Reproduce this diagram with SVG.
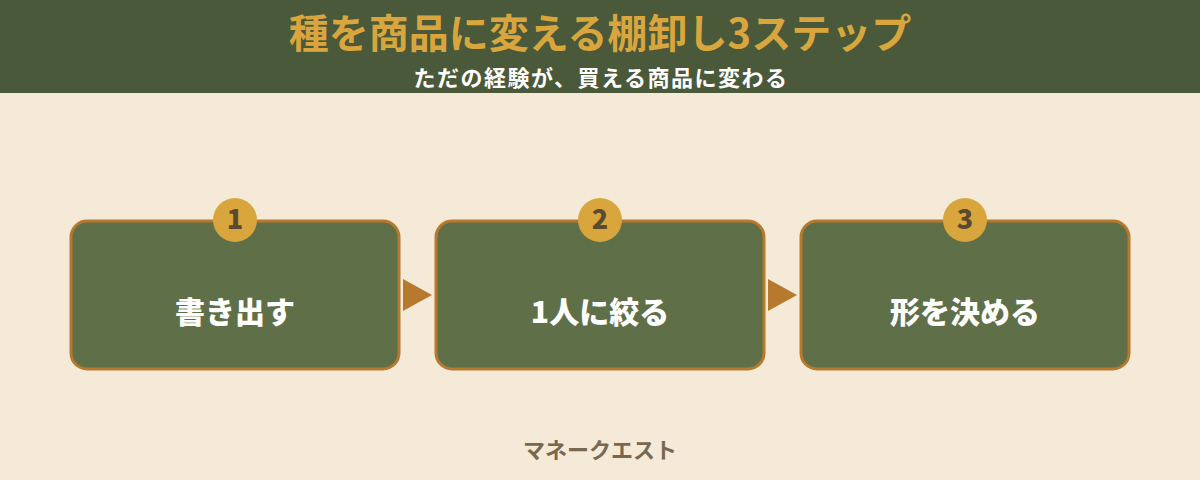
<svg xmlns="http://www.w3.org/2000/svg" width="1200" height="480" viewBox="0 0 1200 480">
<style>
text{font-family:"Noto Sans CJK JP","Noto Sans",sans-serif;text-anchor:middle;font-weight:700}
.box{fill:#5f6f48;stroke:#b7792e;stroke-width:3}
.badge{fill:#d9a63e}
.num{fill:#5a4a30;font-size:27px;font-weight:900}
.lbl{fill:#ffffff;font-size:30px;font-weight:900}
.arr{fill:#b7792e}
</style>
<rect width="1200" height="480" fill="#f5ead8"/>
<rect width="1200" height="93" fill="#4a593a"/>
<text x="600" y="47.5" font-size="40" font-weight="900" fill="#d9a63e">種を商品に変える棚卸し3ステップ</text>
<text x="601" y="85.5" font-size="22" letter-spacing="1.5" fill="#ffffff" font-weight="500">ただの経験が、買える商品に変わる</text>
<g id="connectors">
<polygon class="arr" points="403,279 432,295 403,311"/>
<polygon class="arr" points="768,279 797,295 768,311"/>
</g>
<g id="step1">
<rect class="box" x="71" y="221" width="328" height="148" rx="16"/>
<circle class="badge" cx="235" cy="220" r="22"/>
<text class="num" x="235" y="229">1</text>
<text class="lbl" x="235" y="323">書き出す</text>
</g>
<g id="step2">
<rect class="box" x="436" y="221" width="328" height="148" rx="16"/>
<circle class="badge" cx="600" cy="220" r="22"/>
<text class="num" x="600" y="229">2</text>
<text class="lbl" x="600" y="323">1人に絞る</text>
</g>
<g id="step3">
<rect class="box" x="801" y="221" width="328" height="148" rx="16"/>
<circle class="badge" cx="965" cy="220" r="22"/>
<text class="num" x="965" y="229">3</text>
<text class="lbl" x="965" y="323">形を決める</text>
</g>
<text x="600" y="458" font-size="22" fill="#786850" font-weight="500">マネークエスト</text>
</svg>
